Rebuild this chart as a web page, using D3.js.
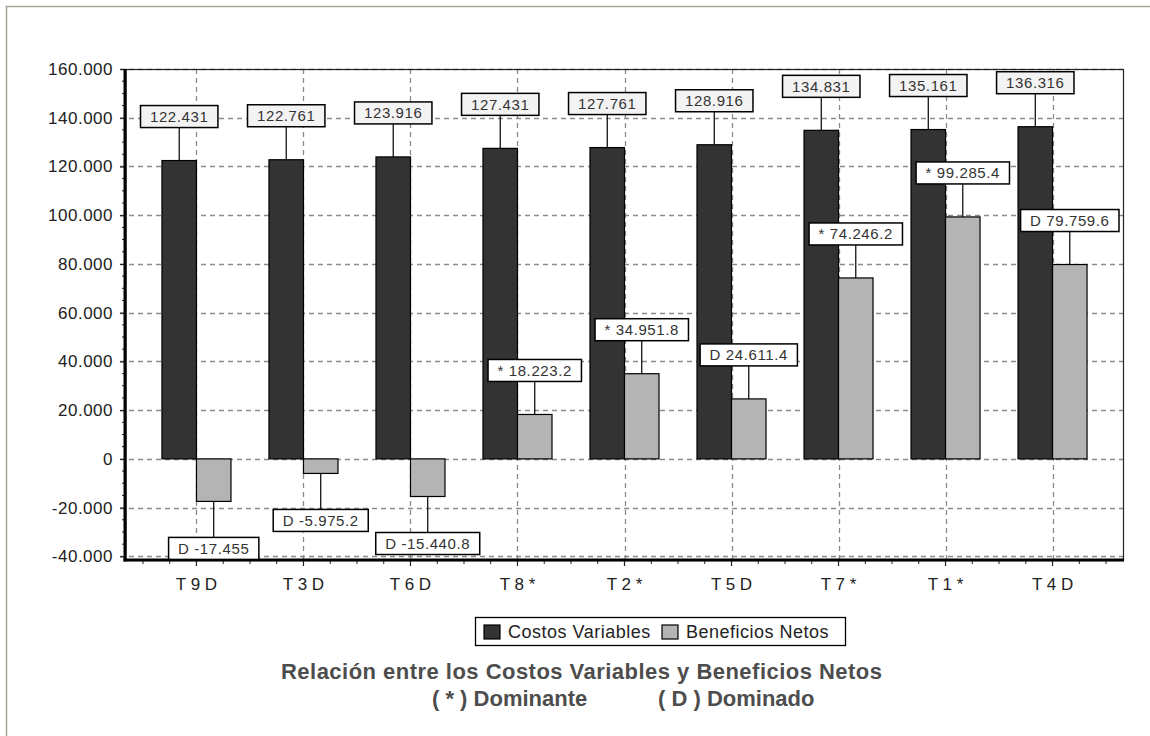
<!DOCTYPE html>
<html>
<head>
<meta charset="utf-8">
<script src="https://cdn.jsdelivr.net/npm/d3@7"></script>
<style>
  body { margin: 0; background: #fff; }
  svg { display: block; font-family: "Liberation Sans", Arial, sans-serif; }
</style>
</head>
<body>
<div id="chart"></div>
<script>
// data
const categories = ["T9", "T3", "T6", "T8", "T2", "T5", "T7", "T1", "T4"];
const flags = ["D", "D", "D", "*", "*", "D", "*", "*", "D"];
const costos = [122431, 122761, 123916, 127431, 127761, 128916, 134831, 135161, 136316];
const beneficios = [-17455, -5975.2, -15440.8, 18223.2, 34951.8, 24611.4, 74246.2, 99285.4, 79759.6];
const yTicks = [-40000, -20000, 0, 20000, 40000, 60000, 80000, 100000, 120000, 140000, 160000];
const seriesNames = ["Costos Variables", "Beneficios Netos"];
const seriesColors = ["#333333", "#b4b4b4"];

const width = 1150, height = 736;
const plotLeft = 126, plotRight = 1123, plotTop = 69, plotBottom = 560;

const loc = d3.formatLocale({decimal: ".", thousands: ".", grouping: [3], currency: ["", ""], minus: "-"});
const fmt = loc.format(",");

const svg = d3.select("#chart").append("svg")
  .attr("width", width)
  .attr("height", height);

// outer frame
svg.append("rect")
  .attr("x", 6.5).attr("y", 6.5)
  .attr("width", width).attr("height", height)
  .attr("fill", "none")
  .attr("stroke", "#a3a596")
  .attr("stroke-width", 1.5);

const x0 = d3.scaleBand()
  .domain(categories)
  .range([plotLeft, plotRight])
  .paddingInner(0.355)
  .paddingOuter(0.336);

const x1 = d3.scaleBand()
  .domain([0, 1])
  .range([0, x0.bandwidth()]);

const y = d3.scaleLinear()
  .domain([-41500, 160000])
  .range([plotBottom, plotTop]);

const step = x0.step();
const center = c => x0(c) + x0.bandwidth() / 2;

// grid
const grid = svg.append("g")
  .attr("stroke", "#8a8a8a")
  .attr("stroke-dasharray", "5,4")
  .attr("stroke-width", 1.3);

grid.selectAll("line.h")
  .data(yTicks)
  .join("line")
  .attr("x1", plotLeft - 6).attr("x2", plotRight)
  .attr("y1", d => Math.round(y(d)) + 0.5)
  .attr("y2", d => Math.round(y(d)) + 0.5);

grid.selectAll("line.v")
  .data(categories)
  .join("line")
  .attr("x1", d => Math.round(center(d)) + 0.5)
  .attr("x2", d => Math.round(center(d)) + 0.5)
  .attr("y1", plotTop).attr("y2", plotBottom);

// plot border
svg.append("rect")
  .attr("x", plotLeft).attr("y", plotTop + 0.5)
  .attr("width", plotRight - plotLeft + 0.5).attr("height", plotBottom - plotTop)
  .attr("fill", "none")
  .attr("stroke", "#222")
  .attr("stroke-width", 1.2);

// bars
const groups = svg.selectAll("g.grp")
  .data(categories)
  .join("g")
  .attr("class", "grp")
  .attr("transform", d => `translate(${x0(d)},0)`);

groups.append("rect")
  .attr("x", x1(0))
  .attr("width", x1.bandwidth())
  .attr("y", (d, i) => y(costos[i]))
  .attr("height", (d, i) => y(0) - y(costos[i]))
  .attr("fill", seriesColors[0])
  .attr("stroke", "#000")
  .attr("stroke-width", 1.2);

groups.append("rect")
  .attr("x", x1(1))
  .attr("width", x1.bandwidth())
  .attr("y", (d, i) => y(Math.max(0, beneficios[i])))
  .attr("height", (d, i) => Math.abs(y(0) - y(beneficios[i])))
  .attr("fill", seriesColors[1])
  .attr("stroke", "#000")
  .attr("stroke-width", 1.2);

// axes
const yAxis = svg.append("g")
  .attr("transform", `translate(${plotLeft},0)`)
  .call(d3.axisLeft(y).tickValues(yTicks).tickFormat(fmt).tickSize(6).tickPadding(7));
yAxis.select(".domain").remove();
yAxis.selectAll("text")
  .attr("font-size", 17)
  .attr("letter-spacing", 0.5)
  .attr("fill", "#222")
  .attr("font-family", "Liberation Sans, Arial, sans-serif");
yAxis.selectAll(".tick line").attr("stroke", "#222").attr("stroke-width", 1.2);

// y minor ticks
const yMinor = d3.range(-40000, 160001, 5000).filter(v => v % 20000 !== 0);
svg.append("g").selectAll("line")
  .data(yMinor)
  .join("line")
  .attr("x1", plotLeft - 4).attr("x2", plotLeft)
  .attr("y1", d => y(d)).attr("y2", d => y(d))
  .attr("stroke", "#222");

const xAxis = svg.append("g")
  .attr("transform", `translate(0,${plotBottom})`)
  .call(d3.axisBottom(x0).tickSize(6).tickPadding(12)
    .tickFormat((d, i) => d.split("").join(" ") + " " + flags[i]));
xAxis.select(".domain").remove();
xAxis.selectAll("text")
  .attr("font-size", 17)
  .attr("fill", "#222")
  .attr("font-family", "Liberation Sans, Arial, sans-serif");
xAxis.selectAll(".tick line").attr("stroke", "#222").attr("stroke-width", 1.2);

// x minor ticks
const xMinor = [];
categories.forEach((c, i) => {
  [-2, -1, 1].forEach(k => xMinor.push(center(c) + k * step / 4));
  if (i === categories.length - 1) xMinor.push(center(c) + 2 * step / 4);
});
svg.append("g").selectAll("line")
  .data(xMinor)
  .join("line")
  .attr("x1", d => d).attr("x2", d => d)
  .attr("y1", plotBottom).attr("y2", plotBottom + 4)
  .attr("stroke", "#222");

// thick axis lines
svg.append("line")
  .attr("x1", plotLeft - 1).attr("x2", plotLeft - 1)
  .attr("y1", plotTop).attr("y2", plotBottom + 1.5)
  .attr("stroke", "#000").attr("stroke-width", 3);
svg.append("line")
  .attr("x1", plotLeft - 2.5).attr("x2", plotRight + 1)
  .attr("y1", plotBottom).attr("y2", plotBottom)
  .attr("stroke", "#000").attr("stroke-width", 3);

// value labels with connectors
function addLabel(cx, barEdge, text, below, fill) {
  const g = svg.append("g");
  const t = g.append("text")
    .attr("x", cx)
    .attr("text-anchor", "middle")
    .attr("font-size", 15)
    .attr("letter-spacing", 0.6)
    .attr("fill", "#333")
    .text(text);
  const w = t.node().getComputedTextLength() + 19;
  const h = 22;
  const boxTop = below ? barEdge + 36 : barEdge - 33 - h;
  g.insert("line", "text")
    .attr("x1", cx).attr("x2", cx)
    .attr("y1", barEdge)
    .attr("y2", below ? boxTop : boxTop + h)
    .attr("stroke", "#000").attr("stroke-width", 1.2);
  g.insert("rect", "text")
    .attr("x", cx - w / 2).attr("y", boxTop)
    .attr("width", w).attr("height", h)
    .attr("fill", fill)
    .attr("stroke", "#000").attr("stroke-width", 1.5);
  t.attr("y", boxTop + h / 2 + 5.5);
}

categories.forEach((c, i) => {
  const cx0 = x0(c) + x1(0) + x1.bandwidth() / 2;
  const cx1 = x0(c) + x1(1) + x1.bandwidth() / 2;
  addLabel(cx0, y(costos[i]), fmt(costos[i]), false, "#f3f3f3");
  const b = beneficios[i];
  addLabel(cx1, y(b), flags[i] + " " + fmt(b), b < 0, "#fff");
});

// legend
const leg = svg.append("g");
leg.append("rect")
  .attr("x", 475.5).attr("y", 617.5)
  .attr("width", 370).attr("height", 28)
  .attr("fill", "#fff")
  .attr("stroke", "#000").attr("stroke-width", 1.3);
const legX = [484, 662];
seriesNames.forEach((name, i) => {
  leg.append("rect")
    .attr("x", legX[i]).attr("y", 625)
    .attr("width", 16).attr("height", 14)
    .attr("fill", seriesColors[i])
    .attr("stroke", "#000").attr("stroke-width", 1.2);
  leg.append("text")
    .attr("x", legX[i] + 24).attr("y", 638)
    .attr("font-size", 18)
    .attr("letter-spacing", 0.5)
    .attr("fill", "#222")
    .text(name);
});

// title
const title = svg.append("g")
  .attr("font-weight", "bold")
  .attr("fill", "#4d4d4d")
  .attr("font-size", 22);
title.append("text")
  .attr("x", 281).attr("y", 679)
  .attr("textLength", 601).attr("lengthAdjust", "spacing")
  .text("Relación entre los Costos Variables y Beneficios Netos");
title.append("text")
  .attr("x", 432).attr("y", 706)
  .text("( * ) Dominante");
title.append("text")
  .attr("x", 658).attr("y", 706)
  .text("( D ) Dominado");
</script>
</body>
</html>
